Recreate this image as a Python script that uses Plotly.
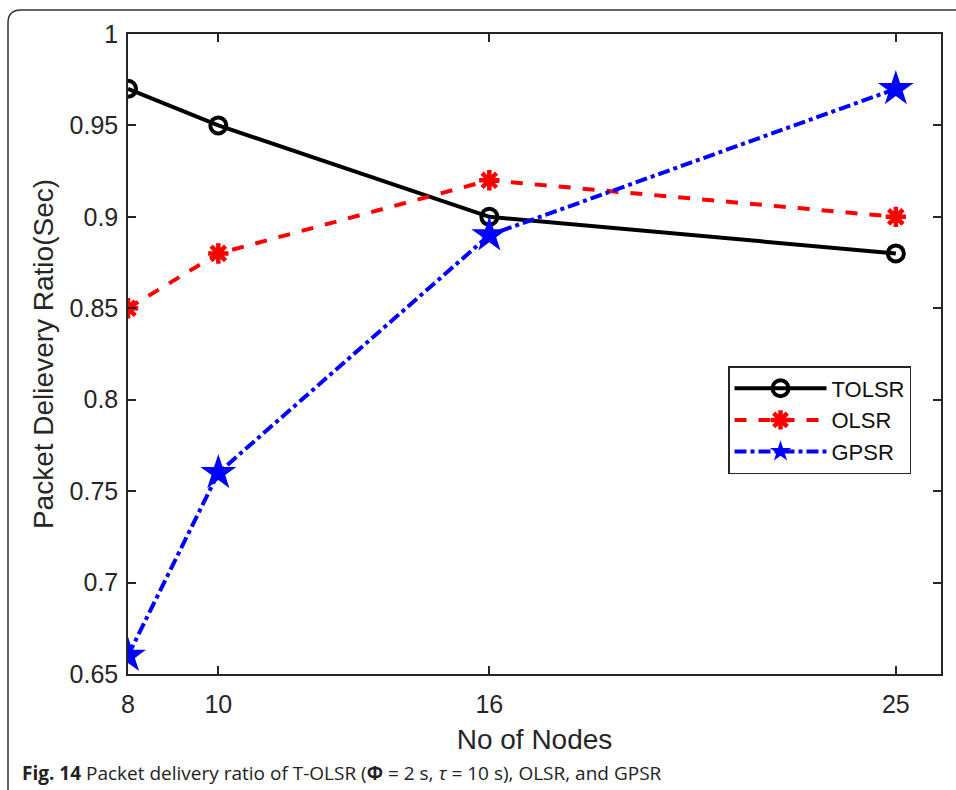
import plotly.graph_objects as go

nodes = [8, 10, 16, 25]
tolsr = [0.97, 0.95, 0.90, 0.88]
olsr = [0.85, 0.88, 0.92, 0.90]
gpsr = [0.66, 0.76, 0.89, 0.97]
y_ticks = [0.65, 0.7, 0.75, 0.8, 0.85, 0.9, 0.95, 1]
y_ticklabels = ["0.65", "0.7", "0.75", "0.8", "0.85", "0.9", "0.95", "1"]

fig = go.Figure()
fig.add_trace(go.Scatter(x=nodes, y=tolsr, name="TOLSR", mode="lines+markers",
                         line=dict(color="black", width=4),
                         marker=dict(symbol="circle-open", size=16, color="black", line=dict(width=4))))
fig.add_trace(go.Scatter(x=nodes, y=olsr, name="OLSR", mode="lines+markers",
                         line=dict(color="#ff0000", width=4, dash="dash"),
                         marker=dict(symbol="asterisk-open", size=17, color="#ff0000", line=dict(width=4.5, color="#ff0000"))))
fig.add_trace(go.Scatter(x=nodes, y=gpsr, name="GPSR", mode="lines+markers",
                         line=dict(color="#0000ff", width=4, dash="dashdot"),
                         marker=dict(symbol="star", size=27, color="#0000ff")))

W, H = 956, 790
L, R, T, B = 128, 941, 34, 674
pw, ph = R - L, B - T

def px(x):
    return (x - L) / pw

def py(y):
    return (B - y) / ph

rad = 13
fx0, fy0 = 8, 10
path = (f"M {px(fx0)},{py(H + 5)} L {px(fx0)},{py(fy0 + rad)} "
        f"Q {px(fx0)},{py(fy0)} {px(fx0 + rad)},{py(fy0)} L {px(W + 5)},{py(fy0)}")

fig.add_shape(type="path", path=path, xref="paper", yref="paper",
              line=dict(color="#333333", width=1.5))

fig.add_annotation(x=px(20), y=py(773), xref="paper", yref="paper", xanchor="left", yanchor="middle",
                   showarrow=False,
                   text="<b>Fig. 14</b> Packet delivery ratio of T-OLSR (<b>Φ</b> = 2 s, <i>τ</i> = 10 s), OLSR, and GPSR",
                   font=dict(family="Open Sans", size=19, color="#222222"))

axis_common = dict(showline=True, linecolor="#262626", linewidth=1.5, mirror="ticks", ticks="inside",
                   ticklen=8, tickwidth=1.5, tickcolor="#262626", showgrid=False, zeroline=False,
                   tickfont=dict(family="Liberation Sans", size=25, color="#262626"))

fig.update_xaxes(range=[8, 26], tickvals=nodes, ticktext=[str(n) for n in nodes],
                 title=dict(text="No of Nodes", font=dict(family="Liberation Sans", size=28, color="#262626"), standoff=13),
                 ticklabelstandoff=7, **axis_common)
fig.update_yaxes(range=[0.65, 1], tickvals=y_ticks, ticktext=y_ticklabels,
                 title=dict(text="Packet Delievery Ratio(Sec)", font=dict(family="Liberation Sans", size=28, color="#262626"), standoff=8),
                 ticklabelstandoff=3, **axis_common)

fig.update_layout(width=W, height=H, margin=dict(l=L, r=W - R, t=T, b=H - B),
                  paper_bgcolor="white", plot_bgcolor="white",
                  legend=dict(x=px(728), y=py(366), xanchor="left", yanchor="top",
                              bgcolor="white", bordercolor="#262626", borderwidth=1.5,
                              itemwidth=92,
                              font=dict(family="Liberation Sans", size=22, color="#111111")),
                  showlegend=True)

fig.write_html("out.html")
